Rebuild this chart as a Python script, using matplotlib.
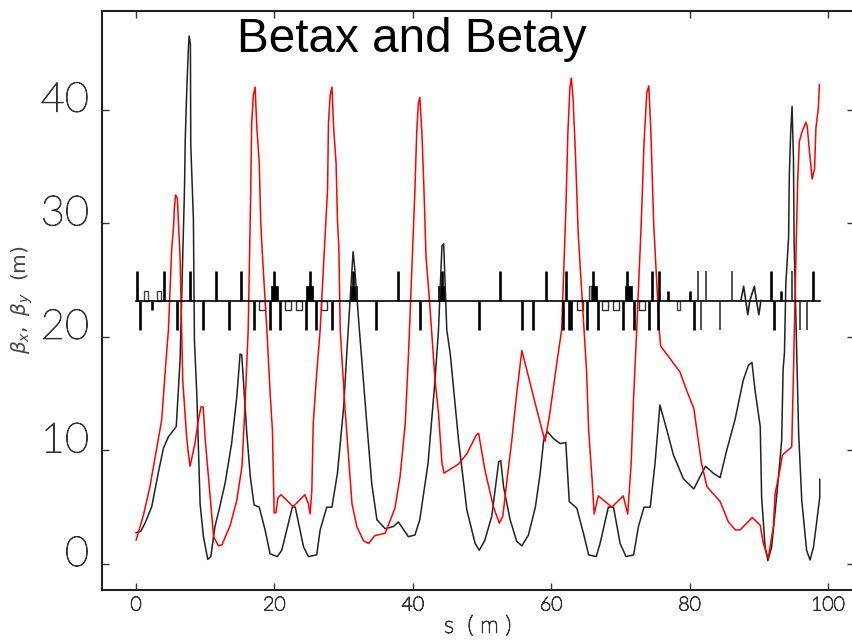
#!/usr/bin/python3
import numpy as np
import matplotlib
matplotlib.use('Agg')
import matplotlib.pyplot as plt
import matplotlib.patheffects as pe
from matplotlib.transforms import ScaledTranslation
from matplotlib.patches import Rectangle

# beta functions
s_x = [0, .67, 1.3, 2.26, 3.2, 3.95, 4.67, 5.8, 6.1, 6.36, 7.0, 7.1, 7.33, 7.56, 7.66, 7.85, 7.9, 8.28, 8.43, 8.77,
       9.0, 9.25, 9.73, 10.36, 10.8, 11.4, 12.04, 12.86, 13.8, 14.55, 15.03, 15.27, 15.6, 16, 16.5, 17.05, 17.8, 18.64, 19.36, 20.4,
       21.05, 22.6, 23, 24.2, 24.9, 26.1, 26.6, 27.55, 28.3, 29.1, 30, 30.5, 31.2, 31.36, 31.6, 32.27, 33.3, 34.05, 34.8, 36,
       37.2, 37.9, 39.35, 40.3, 41, 42.2, 43.2, 43.7, 44.2, 44.45, 44.9, 45.4, 46.6, 47.8, 49, 49.6, 50.4, 51.4, 52.4, 52.7,
       53.1, 54.05, 55, 55.75, 56.7, 57.7, 58.4, 58.9, 59.45, 60.3, 61.3, 62.1, 62.6, 63.7, 64.65, 65.4, 66.5, 67.05, 68.25, 69,
       69.95, 70.8, 71.9, 72.6, 73.4, 74.3, 75, 75.7, 76.7, 77.65, 79.1, 80.6, 81.5, 82.3, 83.4, 84.4, 85.35, 86.55, 87.75, 88.5,
       89, 89.45, 90.2, 90.4, 90.9, 91.3, 91.85, 92.8, 93.3, 93.5, 93.7, 93.9, 94.3, 94.4, 94.6, 94.8, 95, 95.1, 95.4, 95.75,
       96.2, 96.9, 97.4, 97.9, 98.4, 98.8, 98.8]
beta_x = [2.76, 2.88, 3.6, 5.05, 8.0, 10.2, 11.2, 12.1, 15.2, 18, 33.2, 37.3, 41.9, 45.4, 46.5, 45.8, 36.9, 30.4, 19.7, 15,
          10.3, 5.3, 2.4, .4, .65, 3.3, 4.9, 7.1, 10.6, 14.7, 18.5, 18.4, 15.3, 11.5, 7.7, 5.2, 5.0, 3.0, .9, .65,
          1.2, 5.05, 5, 1.5, .65, .8, 3.0, 5, 5, 8, 13.85, 19.1, 26, 27.5, 26, 20.6, 12.7, 7.1, 3.9, 3.1,
          3.3, 3.7, 2.4, 2.55, 3.9, 8.9, 16.2, 20.6, 28, 28.2, 20.6, 18.5, 10.9, 4.75, 1.8, 1.2, 2.1, 4.2, 9, 9.1,
          6.8, 3.9, 2, 1.6, 2.55, 5, 8, 10.9, 11.65, 11.05, 10.6, 10.7, 5.5, 4.9, 2.7, .8, .65, 1.8, 5, 5,
          1.8, .65, .8, 3.3, 5, 5, 8.9, 14, 11.8, 9.6, 7.5, 6.6, 7.7, 8.6, 8, 7.6, 10, 12.7, 16.2, 17.5,
          17.75, 15.3, 12.1, 5.9, 1.5, .3, 1.5, 7.4, 10.9, 17.1, 18.6, 24.7, 28.8, 34.2, 38, 40.3, 35.7, 28.2, 20.6, 11.5,
          5.6, 1.2, .35, 1.5, 3.9, 5.9, 7.45]

s_y = [0, 1.06, 2, 2.75, 3.7, 4.3, 4.67, 5.15, 5.4, 5.53, 5.7, 5.97, 6.1, 6.36, 6.74, 7.3, 7.56, 7.8, 8.5, 9,
       9.4, 9.7, 10, 10.7, 11.2, 11.9, 12.4, 13.6, 14.55, 15.3, 15.75, 16.2, 16.57, 16.7, 16.95, 17.2, 17.45, 17.8, 18, 18.2,
       18.9, 19.4, 19.7, 19.95, 20.2, 20.5, 20.95, 22.7, 24.4, 24.9, 25.15, 25.4, 25.6, 26.1, 26.6, 27.67, 27.8, 28.05, 28.3, 28.55,
       28.9, 29.1, 29.3, 29.5, 30.2, 30.7, 31.2, 31.9, 32.85, 33.6, 34.5, 36, 37.4, 38.15, 38.9, 39.35, 39.6, 40.3, 40.55, 40.8,
       41, 41.3, 41.6, 41.9, 42.3, 42.7, 43.2, 43.7, 44.2, 44.5, 46.6, 47.8, 49.2, 49.5, 50.4, 51.65, 52.5, 53, 53.6, 54.3,
       55, 55.75, 56.7, 57.9, 59.1, 59.8, 60.8, 61.5, 62.1, 62.4, 62.7, 62.9, 63.15, 63.5, 63.9, 64.75, 65.1, 65.4, 65.9, 66.2,
       66.8, 68.75, 70.4, 71.05, 71.55, 71.9, 72.35, 73, 73.4, 73.8, 74.1, 74.4, 74.8, 75.6, 75.8, 77.15, 78.6, 79.55, 80.6, 81.3,
       81.7, 82.5, 84.4, 85.6, 86.6, 87.3, 89.05, 90.2, 90.65, 91.35, 92.1, 92.35, 93.05, 93.4, 94.75, 95, 95.4, 95.6, 95.85, 96.2,
       96.8, 97, 97.3, 97.7, 98.05, 98.25, 98.6, 98.75]
beta_y = [2.1, 4.3, 6.8, 9.4, 12.7, 17.7, 20.6, 27.8, 29.6, 31.3, 32.5, 32.2, 30.3, 27, 16.2, 11.2, 9.7, 8.6, 10.6, 12.7,
          13.85, 13.8, 10.9, 5.9, 2.4, 1.6, 1.67, 3.4, 5.6, 8.6, 14.1, 20.6, 33, 38.8, 41.3, 42, 38.4, 35.3, 30.3, 27.8,
          20.6, 14.7, 11.8, 4.5, 4.5, 5.8, 6.1, 5.05, 6.1, 5.3, 4.4, 6.5, 12.4, 16.8, 20.6, 33, 38.8, 41.3, 42, 38.4,
          35.3, 30.3, 27.8, 20.6, 13.6, 9.45, 5.3, 3.3, 2.05, 1.8, 2.5, 2.7, 4.9, 7.7, 12.4, 18.25, 22, 33, 38, 40.6,
          41.1, 38, 33, 27, 24, 20.6, 16.2, 13.3, 8.9, 8, 8.8, 9.7, 11.4, 11.5, 8.3, 5, 3.6, 4.2, 7.4, 10.9,
          15, 18.8, 16.5, 13.6, 10.8, 13.3, 17.7, 20.6, 31, 38, 42, 42.8, 41, 36, 29, 20.6, 17, 11.8, 7.4, 4.4,
          6, 5, 6, 4.4, 8.9, 14.7, 20.6, 30, 37, 41.5, 42.1, 38, 30, 20.6, 19.2, 18.1, 16.9, 15.3, 13.7, 10.6,
          8.9, 6.8, 5.5, 3.7, 3, 3, 4.1, 3.4, 1.8, .5, 3.3, 6.2, 8.3, 9.6, 10.3, 16.8, 28.3, 33.5, 37.2, 38,
          38.9, 38.5, 36.4, 33.9, 34.8, 38.4, 40.2, 42.2]

# lattice sketch along the top of the plot
lat_y0 = 23.2
lat_end = 98.8
quad_up = [.1, 4.0, 7.75, 11.5, 15.2, 20.0, 25.1, 31.4, 37.8, 44.2, 52.6, 59.2, 62.1, 66.1, 71.0, 74.6, 75.6, 91.8, 97.8]
quad_up_thin = [81.2, 82.3, 86.1, 94.8]
quad_dn = [.5, 5.9, 9.6, 13.4, 17.1, 19.4, 20.8, 24.6, 26.0, 28.3, 34.7, 41.0, 49.5, 55.7, 57.4, 61.7, 62.5, 62.9,
           65.2, 66.7, 70.4, 71.9, 74.1, 75.4, 80.6, 92.2]
quad_dn_thin = [81.7, 84.4, 95.9, 96.9]
block_up = [20.0, 25.1, 31.4, 44.2, 66.1, 71.1]
sext_up = [76.8, 80.0, 93.2]
sext_dn = [2.3]
box_up = [1.45, 3.3]
box_up_narrow = [65.6]
box_dn = [18.25, 22.0, 23.5, 27.1, 64.1, 67.8, 69.3, 73.1]
box_dn_narrow = [78.4]
wig_s = [87.4, 87.8, 88.1, 88.4, 88.7, 89.35, 89.65, 90.0, 90.3]
wig_h = [0, 1.25, 0, -1.25, 0, 1.25, 0, -1.25, 0]

yticks = [0, 10, 20, 30, 40]
xticks = [0, 20, 40, 60, 80, 100]

fig = plt.figure(figsize=(8.52, 6.41), dpi=100)
# right edge of the frame falls just outside the picture
ax = fig.add_axes([101.5/852, 1-589.5/641, (854-101.5)/852, (589.5-11)/641])
ax.set_xlim(-5, 103.75)
ax.set_ylim(-2.25, 48.7)

ax.plot(s_x, beta_x, color='#222222', lw=1.1)
ax.plot(s_y, beta_y, color='#ff0000', lw=1.1)

# lattice
ax.plot([0, lat_end], [lat_y0, lat_y0], color='black', lw=1.2)
ax.vlines(quad_up, lat_y0, lat_y0+2.6, color='black', lw=1.9)
ax.vlines(quad_up_thin, lat_y0, lat_y0+2.6, color='#222222', lw=1.1)
ax.vlines(quad_dn, lat_y0-2.6, lat_y0, color='black', lw=1.9)
ax.vlines(quad_dn_thin, lat_y0-2.6, lat_y0, color='#222222', lw=1.1)
ax.vlines(sext_up, lat_y0, lat_y0+.85, color='black', lw=1.9)
ax.vlines(sext_dn, lat_y0-.85, lat_y0, color='black', lw=1.9)
for s in block_up:
    ax.add_patch(Rectangle((s-.5, lat_y0), 1.0, 1.3, fc='black', ec='black', lw=.5))
for s in box_up:
    ax.add_patch(Rectangle((s-.25, lat_y0), .5, .85, fc='white', ec='#444444', lw=1.0))
for s in box_up_narrow:
    ax.add_patch(Rectangle((s-.1, lat_y0), .2, 1.3, fc='white', ec='#444444', lw=1.0))
for s in box_dn:
    ax.add_patch(Rectangle((s-.45, lat_y0-.85), .9, .85, fc='white', ec='#333333', lw=1.0))
for s in box_dn_narrow:
    ax.add_patch(Rectangle((s-.25, lat_y0-.85), .5, .85, fc='white', ec='#444444', lw=1.0))
ax.plot(wig_s, np.array(wig_h)+lat_y0, color='#222222', lw=1.2)

# ticks on all four sides, inwards
ax.set_xticks(xticks)
ax.set_yticks(yticks)
ax.tick_params(direction='in', length=5, width=1, top=True, right=True, color='#333333')
ax.tick_params(axis='x', labelsize=14, labelcolor='#333333', pad=5)
ax.tick_params(axis='y', labelsize=30, labelcolor='#333333', pad=9)

# the installed light face is too faint, thicken it a bit with a stroke
thick = [pe.withStroke(linewidth=0.7, foreground='#333333')]
for lab in ax.get_xticklabels():
    lab.set_family(['Lato', 'DejaVu Sans'])
    lab.set_weight('light')
    lab.set_path_effects(thick)
offs = ScaledTranslation(0, 13/72*0.72, fig.dpi_scale_trans)
for lab in ax.get_yticklabels():
    lab.set_family(['Lato', 'DejaVu Sans'])
    lab.set_weight('light')
    lab.set_path_effects(thick)
    lab.set_transform(lab.get_transform()+offs)
for sp in ax.spines.values():
    sp.set_linewidth(1.5)
    sp.set_color('#222222')

ax.set_xlabel('s  ( m )', fontsize=17, color='#333333', labelpad=1, family=['Lato', 'DejaVu Sans'], weight='light',
              path_effects=thick)
fig.text(22/852, 1-300/641, r'$\beta_x,\ \beta_y$  (m)', rotation=90, fontsize=14.5, color='#444444',
         ha='center', va='center')
fig.text(412/852, 1-40/641, 'Betax and Betay', fontsize=34.3, family='Liberation Sans', color='black',
         ha='center', va='center')

plt.savefig('out.png', dpi=100)
